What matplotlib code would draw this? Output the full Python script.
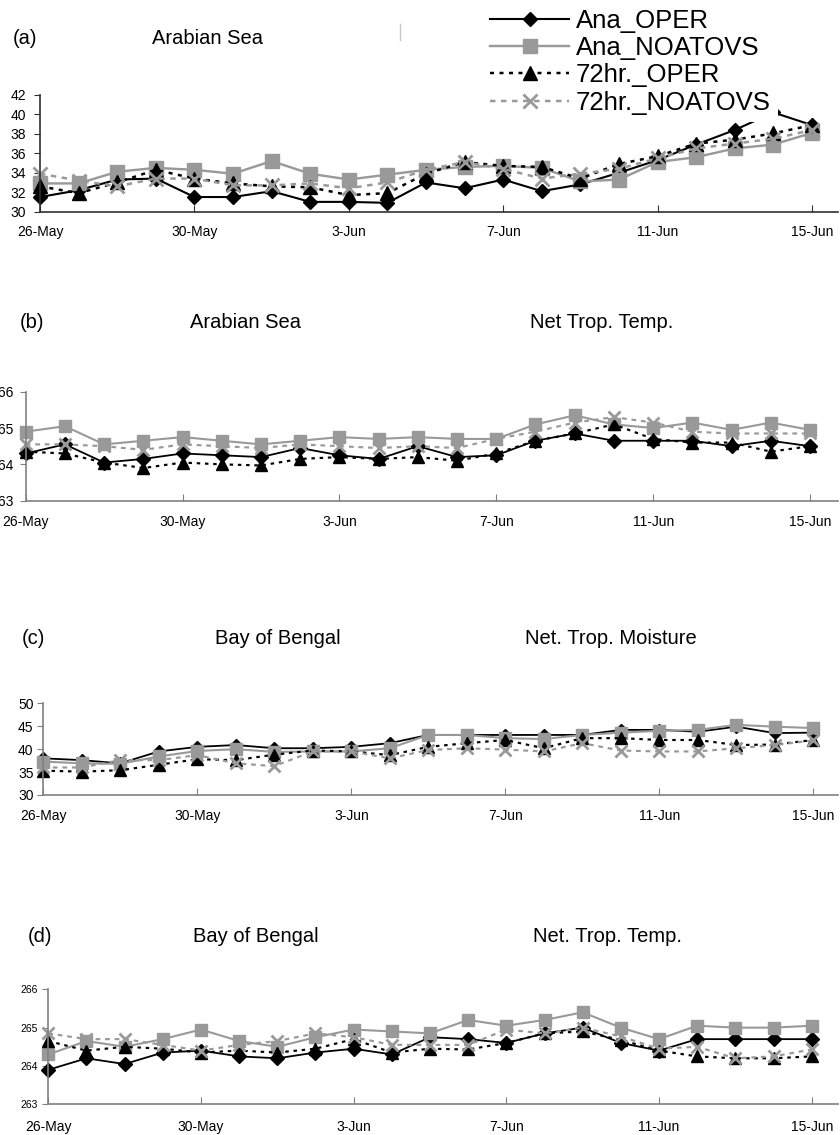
import numpy as np
import matplotlib
matplotlib.use('agg')
import matplotlib.pyplot as plt
from matplotlib.lines import Line2D

plt.rcParams['font.family'] = ['Liberation Sans', 'DejaVu Sans']

W, H = 840, 1135

# data
days = np.arange(21)
tick_days = [0, 4, 8, 12, 16, 20]
tick_labels = ['26-May', '30-May', '3-Jun', '7-Jun', '11-Jun', '15-Jun']
series_names = ['Ana_OPER', 'Ana_NOATOVS', '72hr._OPER', '72hr._NOATOVS']

# (a) Arabian Sea
a_ana_oper = [31.5, 32.2, 33.3, 33.4, 31.5, 31.5, 32.1, 31.0, 31.0, 30.9, 33.0,
              32.4, 33.3, 32.1, 32.8, 34.0, 35.3, 36.9, 38.4, 40.2, 38.9]
a_ana_noatovs = [32.9, 32.9, 34.1, 34.5, 34.3, 33.9, 35.2, 33.9, 33.3, 33.8, 34.3,
                 34.6, 34.7, 34.5, 33.1, 33.3, 35.1, 35.6, 36.5, 36.9, 38.1]
a_72_oper = [32.6, 31.9, 33.0, 34.3, 33.4, 32.9, 32.6, 32.5, 31.7, 31.9, 33.9,
             35.1, 34.7, 34.6, 33.4, 34.9, 35.7, 37.0, 37.4, 38.05, 38.9]
a_72_noatovs = [33.9, 33.2, 32.6, 33.4, 33.4, 32.7, 32.7, 32.9, 32.4, 33.0, 34.3,
                35.1, 34.4, 33.4, 33.9, 34.4, 35.5, 36.5, 37.0, 37.5, 38.4]

# (b) Arabian Sea, Net Trop. Temp.
b_ana_oper = [264.3, 264.55, 264.05, 264.15, 264.3, 264.25, 264.2, 264.45, 264.25, 264.15, 264.5,
              264.2, 264.25, 264.65, 264.85, 264.65, 264.65, 264.65, 264.5, 264.65, 264.5]
b_ana_noatovs = [264.9, 265.05, 264.55, 264.65, 264.75, 264.65, 264.55, 264.65, 264.75, 264.7, 264.75,
                 264.7, 264.7, 265.1, 265.35, 265.1, 265.0, 265.15, 264.95, 265.15, 264.95]
b_72_oper = [264.35, 264.3, 264.05, 263.9, 264.05, 264.0, 263.97, 264.15, 264.2, 264.15, 264.2,
             264.1, 264.3, 264.65, 264.85, 265.1, 264.7, 264.6, 264.6, 264.35, 264.5]
b_72_noatovs = [264.55, 264.55, 264.5, 264.4, 264.55, 264.5, 264.45, 264.55, 264.5, 264.45, 264.5,
                264.45, 264.7, 264.9, 265.15, 265.3, 265.15, 264.9, 264.85, 264.85, 264.85]

# (c) Bay of Bengal, Net. Trop. Moisture
c_ana_oper = [38.0, 37.6, 36.9, 39.5, 40.5, 40.9, 40.2, 40.2, 40.5, 41.3, 43.1,
              43.1, 43.1, 43.1, 43.1, 44.2, 44.2, 43.8, 44.9, 43.5, 43.6]
c_ana_noatovs = [37.3, 36.9, 36.8, 38.4, 39.6, 40.0, 39.4, 39.5, 39.5, 40.2, 43.1,
                 43.1, 42.4, 42.2, 43.1, 43.6, 44.0, 44.2, 45.3, 44.9, 44.6]
c_72_oper = [35.3, 35.1, 35.4, 36.6, 37.8, 37.6, 38.8, 39.7, 39.5, 38.7, 40.5,
             41.3, 42.0, 40.2, 42.4, 42.4, 42.0, 42.0, 40.9, 41.0, 42.0]
c_72_noatovs = [36.0, 36.0, 37.6, 37.6, 38.7, 36.9, 36.3, 39.5, 39.5, 38.0, 39.8,
                40.2, 39.9, 39.5, 41.3, 39.7, 39.5, 39.5, 40.2, 40.9, 41.9]

# (d) Bay of Bengal, Net. Trop. Temp.
d_ana_oper = [263.9, 264.2, 264.05, 264.35, 264.4, 264.25, 264.2, 264.35, 264.45, 264.3, 264.75,
              264.7, 264.6, 264.85, 265.0, 264.6, 264.4, 264.7, 264.7, 264.7, 264.7]
d_ana_noatovs = [264.3, 264.65, 264.5, 264.7, 264.95, 264.65, 264.5, 264.75, 264.95, 264.9, 264.85,
                 265.2, 265.05, 265.2, 265.4, 265.0, 264.7, 265.05, 265.0, 265.0, 265.05]
d_72_oper = [264.65, 264.4, 264.5, 264.45, 264.35, 264.4, 264.35, 264.45, 264.7, 264.35, 264.45,
             264.43, 264.6, 264.85, 264.9, 264.68, 264.4, 264.25, 264.2, 264.2, 264.25]
d_72_noatovs = [264.85, 264.7, 264.7, 264.55, 264.4, 264.55, 264.65, 264.85, 264.75, 264.55, 264.55,
                264.55, 264.95, 264.85, 265.0, 264.77, 264.45, 264.5, 264.2, 264.25, 264.43]

GRAY = '#999999'


def px_rect(left, right, top, bottom):
    return [left / W, 1 - bottom / H, (right - left) / W, (bottom - top) / H]


def draw_panel(rect, x15, series, ylim, yticks, ms, lw, spine_col, ypad, xpad, ysize):
    ax = fig.add_axes(rect)
    ana_oper, ana_noatovs, oper72, noatovs72 = series
    ax.plot(days, ana_oper, color='black', lw=lw, marker='D', ms=ms * 0.74,
            clip_on=False, label=series_names[0])
    ax.plot(days, ana_noatovs, color=GRAY, lw=lw * 1.15, marker='s', ms=ms * 0.95,
            clip_on=False, label=series_names[1])
    ax.plot(days, oper72, color='black', lw=lw * 1.2, dashes=(1.6, 2.2), marker='^',
            ms=ms, clip_on=False, label=series_names[2])
    ax.plot(days, noatovs72, color=GRAY, lw=lw * 1.2, dashes=(2.2, 2.2), marker='x',
            ms=ms * 0.95, mew=2, clip_on=False, label=series_names[3])
    # left edge sits on 26-May, right edge runs a bit past 15-Jun
    left_px = rect[0] * W
    right_px = (rect[0] + rect[2]) * W
    ax.set_xlim(0, 20 * (right_px - left_px) / (x15 - left_px))
    ax.set_ylim(ylim)
    ax.set_xticks(tick_days, tick_labels)
    ax.set_yticks(yticks)
    for s in ['top', 'right']:
        ax.spines[s].set_visible(False)
    for s in ['left', 'bottom']:
        ax.spines[s].set_color(spine_col)
        ax.spines[s].set_linewidth(1.2)
    ax.tick_params(axis='x', direction='in', length=5, color=spine_col, pad=xpad, labelsize=10)
    ax.tick_params(axis='y', direction='out', length=4, color=spine_col, pad=ypad, labelsize=ysize)
    ax.patch.set_alpha(0)
    return ax


fig = plt.figure(figsize=(W / 100, H / 100), dpi=100)

ax_a = draw_panel(px_rect(40, 838, 95, 211.6), 812,
                  [a_ana_oper, a_ana_noatovs, a_72_oper, a_72_noatovs],
                  (30, 42), np.arange(30, 43, 2), 10, 1.5, '#303030', 6, 9.6, 10)
ax_b = draw_panel(px_rect(25.7, 838, 391.7, 500.7), 810,
                  [b_ana_oper, b_ana_noatovs, b_72_oper, b_72_noatovs],
                  (263, 266), [263, 264, 265, 266], 9, 1.3, '#808080', 4.8, 10.3, 10)
ax_c = draw_panel(px_rect(43.3, 838, 703.3, 795), 813.3,
                  [c_ana_oper, c_ana_noatovs, c_72_oper, c_72_noatovs],
                  (30, 50), [30, 35, 40, 45, 50], 8.5, 1.3, '#808080', 3, 10, 10)
ax_d = draw_panel(px_rect(48.3, 838, 989.3, 1104.3), 811.7,
                  [d_ana_oper, d_ana_noatovs, d_72_oper, d_72_noatovs],
                  (263, 266), [263, 264, 265, 266], 9, 1.3, '#808080', 3.7, 11.3, 7.5)

# panel headers
headers = [
    (13, 38, '(a)'), (152, 38, 'Arabian Sea'),
    (20, 323, '(b)'), (190, 323, 'Arabian Sea'), (530, 323, 'Net Trop. Temp.'),
    (22, 639, '(c)'), (215, 639, 'Bay of Bengal'), (525, 639, 'Net. Trop. Moisture'),
    (28, 937, '(d)'), (193, 937, 'Bay of Bengal'), (533, 937, 'Net. Trop. Temp.'),
]
for x, y, s in headers:
    fig.text(x / W, 1 - y / H, s, fontsize=14.5, va='center', ha='left')

fig.add_artist(Line2D([400 / W, 400 / W], [1 - 24 / H, 1 - 40 / H], color='#c8c8c8', lw=1))

fig.legend(handles=ax_a.get_lines(), labels=series_names, loc='upper left',
           bbox_to_anchor=(482 / W, 1 - 1 / H), fontsize=18.5, handlelength=3.1,
           handletextpad=0.25, labelspacing=0.13, borderpad=0.3, borderaxespad=0,
           frameon=True, facecolor='white', edgecolor='none', framealpha=1, fancybox=False)

fig.savefig('out.png', dpi=100)
